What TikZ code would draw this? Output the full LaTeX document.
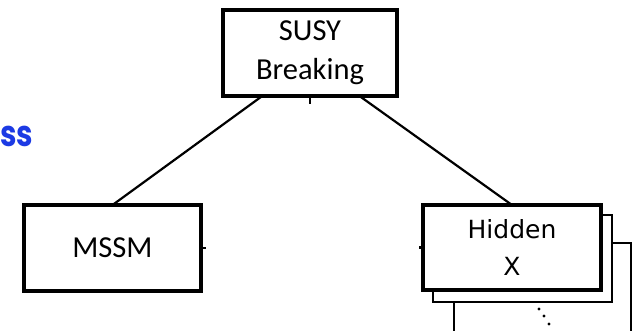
\documentclass[tikz,border=0pt]{standalone}
\usepackage{fontspec}
\usetikzlibrary{calc}
\newfontfamily\boxfont{Carlito}
\newfontfamily\hidfont{DejaVu Sans}
\newfontfamily\titlefont{Poppins}
\definecolor{titleblue}{RGB}{28,58,228}
\tikzset{
  blockbox/.style={draw=black, line width=3.4pt, fill=white, inner sep=0pt, outer sep=0pt, align=center},
  stackbox/.style={draw=black, line width=1.5pt, fill=white},
  link/.style={draw=black, line width=2.2pt},
  stub/.style={draw=black, line width=2.2pt}
}
\begin{document}
\begin{tikzpicture}[x=1pt,y=-1pt]
  \useasboundingbox (0,0) rectangle (632,330);
  \clip (0,0) rectangle (632,330);
  \fill[white] (0,0) rectangle (632,330);

  % tail of the heading on the left
  \node[anchor=base west, inner sep=0pt, xscale=0.82, transform shape, text=titleblue, font=\titlefont\bfseries\fontsize{36}{40}\selectfont] (head) at (0,146) {ss};

  % top block
  \node[blockbox, minimum width=174pt, minimum height=86pt, font=\boxfont\fontsize{30.5}{39}\selectfont] (susy) at (310,53) {\raisebox{-4pt}{\parbox{170pt}{\centering SUSY\\Breaking}}};

  % left block
  \node[blockbox, minimum width=177pt, minimum height=86pt, font=\boxfont\fontsize{30.5}{39}\selectfont] (mssm) at (112.5,248) {\raisebox{-1pt}{MSSM}};

  % stacked copies behind the hidden block
  \draw[stackbox] (454,243) rectangle (631,345);
  \draw[stackbox] (433,215) rectangle (612,302);

  % right block
  \node[blockbox, minimum width=178pt, minimum height=85pt, font=\hidfont\fontsize{25}{37}\selectfont] (hidden) at (512,247.5) {Hidden\\X};

  % connectors
  \draw[link] (susy.222.5) -- (mssm.north);
  \draw[link] (susy.-41.3) -- (hidden.north);

  % short stubs
  \coordinate (susystub) at ($(susy.south)+(0,8)$);
  \coordinate (mssmstub) at ($(mssm.east)+(5,0)$);
  \coordinate (hidstub) at ($(hidden.west)+(-4,0)$);
  \draw[stub] (susy.south) -- (susystub);
  \draw[stub] (mssm.east) -- (mssmstub);
  \draw[stub] (hidden.west) -- (hidstub);

  % continuation dots
  \foreach \p in {(539,309),(544,316),(549,324)}
    \fill \p circle (1.6pt);
\end{tikzpicture}
\end{document}
